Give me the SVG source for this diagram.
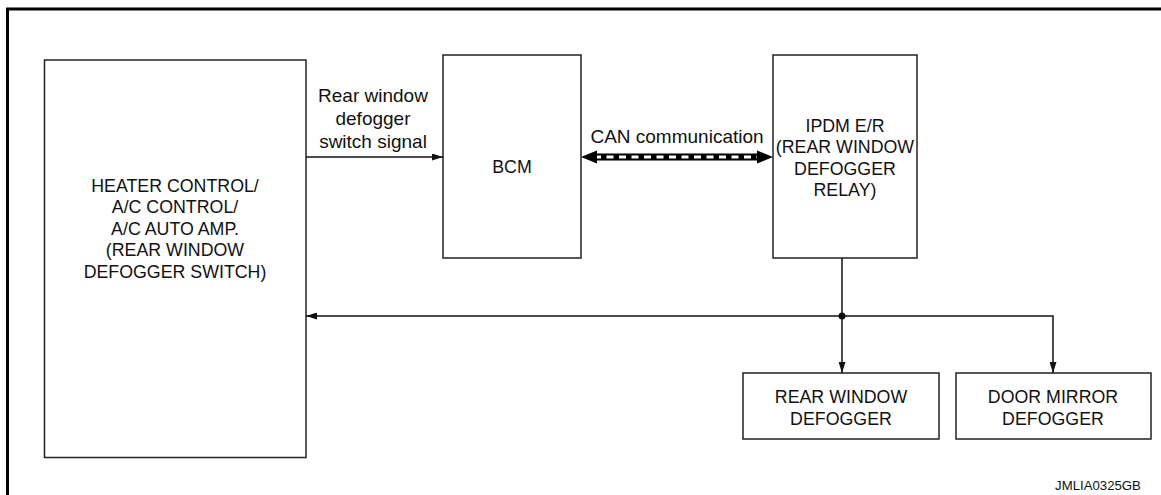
<svg xmlns="http://www.w3.org/2000/svg" width="1161" height="495" viewBox="0 0 1161 495">
<defs>
<style>
.box{fill:#fff;stroke:#222;stroke-width:1.5}
.t{font-family:"Liberation Sans",Arial,sans-serif;font-size:17.8px;fill:#111;text-anchor:middle}
.l{font-family:"Liberation Sans",Arial,sans-serif;font-size:19px;fill:#111;text-anchor:middle}
.s{font-family:"Liberation Sans",Arial,sans-serif;font-size:13.2px;fill:#111;text-anchor:middle}
.ln{fill:none;stroke:#111;stroke-width:1.5}
</style>
<marker id="ah" viewBox="0 0 10 10" refX="10" refY="5" markerWidth="11" markerHeight="7" markerUnits="userSpaceOnUse" orient="auto-start-reverse" preserveAspectRatio="none">
<path d="M0,0 L10,5 L0,10 Z" fill="#111"/>
</marker>
<marker id="ah2" viewBox="0 0 10 10" refX="10" refY="5" markerWidth="11" markerHeight="7" markerUnits="userSpaceOnUse" orient="auto-start-reverse" preserveAspectRatio="none">
<path d="M0,0 L10,5 L0,10 Z" fill="#111"/>
</marker>
</defs>
<rect width="1161" height="495" fill="#fff"/>
<path d="M7.5,500 V9 H1170" fill="none" stroke="#000" stroke-width="3"/>

<g id="heater">
<rect class="box" x="44.5" y="60" width="261.5" height="397.5"/>
<text class="t" x="175" y="191.5">HEATER CONTROL/</text>
<text class="t" x="175" y="213">A/C CONTROL/</text>
<text class="t" x="175" y="234.7">A/C AUTO AMP.</text>
<text class="t" x="175" y="256.4">(REAR WINDOW</text>
<text class="t" x="175" y="278">DEFOGGER SWITCH)</text>
</g>

<g id="bcm">
<rect class="box" x="443" y="55" width="138" height="203"/>
<text class="t" x="512" y="173">BCM</text>
</g>

<g id="ipdm">
<rect class="box" x="773" y="55" width="144" height="203"/>
<text class="t" x="845" y="132">IPDM E/R</text>
<text class="t" x="845" y="153">(REAR WINDOW</text>
<text class="t" x="845" y="174.5">DEFOGGER</text>
<text class="t" x="845" y="196">RELAY)</text>
</g>

<g id="rear-defogger">
<rect class="box" x="743" y="373" width="196" height="66"/>
<text class="t" x="841" y="402.5">REAR WINDOW</text>
<text class="t" x="841" y="425">DEFOGGER</text>
</g>

<g id="mirror-defogger">
<rect class="box" x="956" y="373" width="195" height="66"/>
<text class="t" x="1053" y="402.5">DOOR MIRROR</text>
<text class="t" x="1053" y="425">DEFOGGER</text>
</g>

<g id="connectors">
<line class="ln" x1="306" y1="157" x2="443" y2="157" marker-end="url(#ah)"/>
<text class="l" x="373" y="101.5">Rear window</text>
<text class="l" x="373" y="125">defogger</text>
<text class="l" x="373" y="147.5">switch signal</text>

<line x1="592" y1="157" x2="762" y2="157" stroke="#000" stroke-width="7"/>
<line x1="594" y1="157" x2="760" y2="157" stroke="#fff" stroke-width="3" stroke-dasharray="7 5.5"/>
<path d="M581,157 L597,150.5 L597,163.5 Z" fill="#000"/>
<path d="M773,157 L757,150.5 L757,163.5 Z" fill="#000"/>
<text class="l" x="677" y="143">CAN communication</text>

<line class="ln" x1="842" y1="258" x2="842" y2="373" marker-end="url(#ah2)"/>
<path class="ln" d="M1053,373 V316 H306" marker-start="url(#ah2)" marker-end="url(#ah)"/>
<circle cx="842" cy="316" r="3.5" fill="#111"/>
</g>

<text class="s" x="1098" y="490">JMLIA0325GB</text>
</svg>
